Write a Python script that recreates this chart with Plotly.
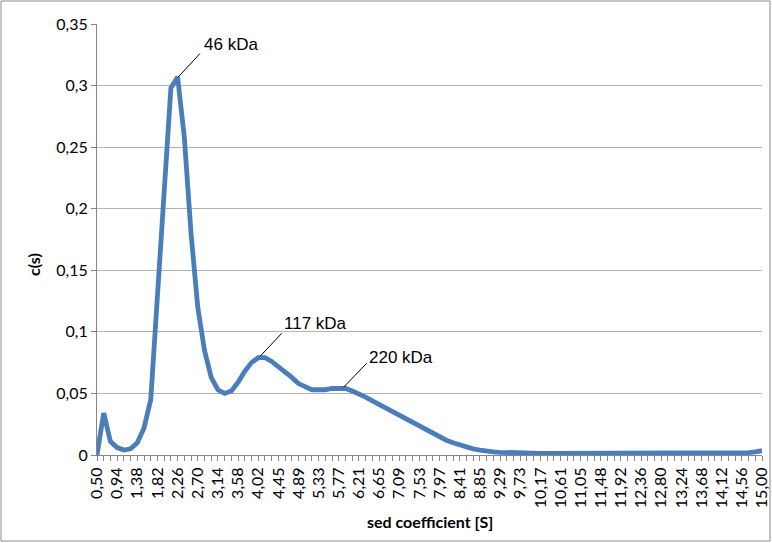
import plotly.graph_objects as go

sed_coeff = [
    "0,50", "0,65", "0,79", "0,94", "1,09", "1,23", "1,38", "1,53", "1,67", "1,82",
    "1,96", "2,11", "2,26", "2,40", "2,55", "2,70", "2,84", "2,99", "3,14", "3,28",
    "3,43", "3,58", "3,72", "3,87", "4,02", "4,16", "4,31", "4,45", "4,60", "4,75",
    "4,89", "5,04", "5,19", "5,33", "5,48", "5,63", "5,77", "5,92", "6,07", "6,21",
    "6,36", "6,51", "6,65", "6,80", "6,94", "7,09", "7,24", "7,38", "7,53", "7,68",
    "7,82", "7,97", "8,12", "8,26", "8,41", "8,56", "8,70", "8,85", "8,99", "9,14",
    "9,29", "9,43", "9,58", "9,73", "9,87", "10,02", "10,17", "10,31", "10,46", "10,61",
    "10,75", "10,90", "11,05", "11,19", "11,34", "11,48", "11,63", "11,78", "11,92", "12,07",
    "12,22", "12,36", "12,51", "12,66", "12,80", "12,95", "13,10", "13,24", "13,39", "13,54",
    "13,68", "13,83", "13,97", "14,12", "14,27", "14,41", "14,56", "14,71", "14,85", "15,00",
]

c_s = [
    0.000, 0.034, 0.011, 0.006, 0.004, 0.005, 0.010, 0.022, 0.045, 0.125,
    0.215, 0.298, 0.307, 0.258, 0.180, 0.120, 0.085, 0.063, 0.053, 0.050,
    0.052, 0.059, 0.068, 0.075, 0.079, 0.079, 0.076, 0.072, 0.068, 0.063,
    0.058, 0.055, 0.053, 0.053, 0.053, 0.054, 0.054, 0.054, 0.052, 0.050,
    0.047, 0.044, 0.041, 0.038, 0.035, 0.032, 0.029, 0.026, 0.023, 0.020,
    0.017, 0.015, 0.012, 0.010, 0.008, 0.0065, 0.005, 0.004, 0.003, 0.0025,
    0.0022, 0.0019, 0.0017, 0.0015, 0.0014, 0.0013, 0.0013, 0.0012, 0.0012, 0.0012,
    0.0012, 0.0012, 0.0012, 0.0012, 0.0012, 0.0012, 0.0011, 0.0011, 0.0011, 0.0011,
    0.0011, 0.0011, 0.0011, 0.0011, 0.0011, 0.0012, 0.0013, 0.0014, 0.0015, 0.0016,
    0.0017, 0.0017, 0.0017, 0.0017, 0.0017, 0.0017, 0.0018, 0.0020, 0.0025, 0.0035,
]

x_tick_labels = [s if i % 3 == 0 else "" for i, s in enumerate(sed_coeff)]

y_tick_vals = [0, 0.05, 0.1, 0.15, 0.2, 0.25, 0.3, 0.35]
y_tick_text = ["0", "0,05", "0,1", "0,15", "0,2", "0,25", "0,3", "0,35"]

peak_labels = ["46 kDa", "117 kDa", "220 kDa"]
# (head x-index, head y, tail x-index, tail y) for leader lines
leader_heads = [(12.1, 0.307), (24.3, 0.0803), (36.7, 0.055)]
leader_tails = [(15.33, 0.326), (27.5, 0.0988), (40.15, 0.0745)]
label_pos = [(15.6, 0.333), (27.6, 0.107), (40.25, 0.0788)]

W, H = 772, 543
ML, MR, MT, MB = 97, 10, 24, 88
PW, PH = W - ML - MR, H - MT - MB

fig = go.Figure()
fig.add_trace(go.Scatter(
    x=list(range(len(sed_coeff))), y=c_s, mode="lines",
    line=dict(color="#4a7ebb", width=4.8),
    hoverinfo="skip",
))

tick_font = dict(family="Lato, Calibri, sans-serif", size=16, color="#000000")

fig.update_xaxes(
    range=[0, len(sed_coeff) - 1],
    tickmode="array",
    tickvals=list(range(len(sed_coeff))),
    ticktext=x_tick_labels,
    tickangle=-90,
    ticks="outside", ticklen=5, tickcolor="#868686", tickwidth=1,
    showline=True, linecolor="#868686", linewidth=1,
    showgrid=False, zeroline=False,
    tickfont=tick_font, automargin=False,
)
fig.update_yaxes(
    range=[0, 0.35],
    tickmode="array", tickvals=y_tick_vals, ticktext=y_tick_text,
    ticks="outside", ticklen=5, tickcolor="#868686", tickwidth=1,
    showline=True, linecolor="#868686", linewidth=1,
    showgrid=True, gridcolor="#b3b3b3", gridwidth=1,
    zeroline=False,
    tickfont=tick_font, automargin=False,
)

shapes = []
for (hx, hy), (tx, ty) in zip(leader_heads, leader_tails):
    shapes.append(dict(type="line", xref="x", yref="y", x0=hx, y0=hy, x1=tx, y1=ty,
                       line=dict(color="#000000", width=1)))
# outer chart border (whole figure)
shapes.append(dict(type="rect", xref="paper", yref="paper",
                   x0=(1 - ML) / PW, x1=(W - 2 - ML) / PW,
                   y0=(MT + PH - (H - 2)) / PH, y1=(MT + PH - 1) / PH,
                   line=dict(color="#8c8c8c", width=1), layer="below"))

annotations = []
for txt, (lx, ly) in zip(peak_labels, label_pos):
    annotations.append(dict(x=lx, y=ly, xref="x", yref="y", text=txt, showarrow=False,
                            xanchor="left", yanchor="middle",
                            font=dict(family="Liberation Sans, Arial, sans-serif", size=17, color="#000000")))
annotations.append(dict(text="<b>sed coefficient [S]</b>", xref="paper", yref="paper",
                        x=0.5, y=(MT + PH - 521) / PH, xanchor="center", yanchor="middle", showarrow=False,
                        font=dict(family="Lato, Calibri, sans-serif", size=16, color="#000000")))
annotations.append(dict(text="<b>c(s)</b>", xref="paper", yref="paper",
                        x=(33 - ML) / PW, y=(MT + PH - 265) / PH, xanchor="center", yanchor="middle", showarrow=False,
                        textangle=-90,
                        font=dict(family="Lato, Calibri, sans-serif", size=16, color="#000000")))

fig.update_layout(
    width=W, height=H,
    margin=dict(l=ML, r=MR, t=MT, b=MB, autoexpand=False),
    paper_bgcolor="white", plot_bgcolor="white",
    showlegend=False,
    shapes=shapes,
    annotations=annotations,
)

fig.write_html("out.html", config={"displayModeBar": False},
               post_script="document.body.style.margin='0';")
